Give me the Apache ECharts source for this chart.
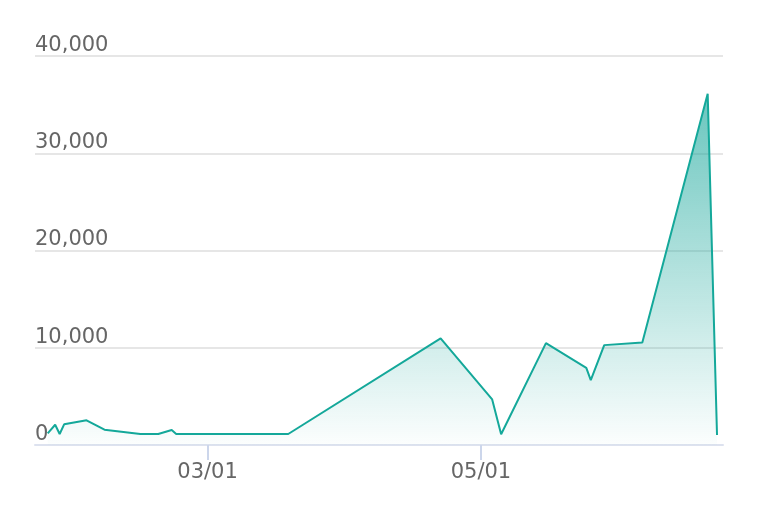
<!DOCTYPE html>
<html>
<head>
<meta charset="utf-8">
<script src="https://cdn.jsdelivr.net/npm/echarts@6/dist/echarts.min.js"></script>
<style>html,body{margin:0;padding:0;background:#fff}#c{width:758px;height:520px}</style>
</head>
<body>
<div id="c"></div>
<script>
const dates = ['2021-01-24 08:00','2021-01-26','2021-01-27','2021-01-28','2021-02-02','2021-02-06','2021-02-14','2021-02-18','2021-02-21','2021-02-22','2021-03-19','2021-04-22','2021-05-03 12:00','2021-05-05 12:00','2021-05-15 12:00','2021-05-24 12:00','2021-05-25 12:00','2021-05-28 12:00','2021-06-06','2021-06-20 14:00','2021-06-22 16:00'];
const values = [1200,2080,1130,2125,2540,1570,1130,1130,1540,1130,1130,10960,4690,1100,10475,7940,6675,10270,10545,36120,1030];
const tickDates = ['2021-03-01','2021-05-01'];
const yTicks = [0,10000,20000,30000,40000];
const xMin = '2021-01-21 12:00';
const xMax = '2021-06-24 00:00';

const ts = s => new Date(s.length === 10 ? s + 'T00:00:00' : s.replace(' ', 'T') + ':00').getTime();
const seriesData = dates.map((d,i)=>[ts(d), values[i]]);
const tickTs = tickDates.map(ts);

const chart = echarts.init(document.getElementById('c'), null, {renderer:'canvas'});
chart.setOption({
  animation:false,
  grid:{left:35,right:35,top:56,bottom:75,containLabel:false},
  xAxis:{
    type:'value',
    min: ts(xMin), max: ts(xMax),
    axisLine:{show:true,lineStyle:{color:'#dde2ef',width:2}},
    axisTick:{show:true,customValues:tickTs,length:15,lineStyle:{color:'#ccd6eb',width:2}},
    axisLabel:{show:true,customValues:tickTs,margin:17,color:'#666666',fontSize:21,fontFamily:'DejaVu Sans',
      formatter:v=>{const d=new Date(v);return String(d.getMonth()+1).padStart(2,'0')+'/'+String(d.getDate()).padStart(2,'0');}},
    splitLine:{show:false}
  },
  yAxis:{
    type:'value',min:yTicks[0],max:yTicks[yTicks.length-1],interval:10000,
    axisLine:{show:false},axisTick:{show:false},
    axisLabel:{inside:true,margin:0,align:'left',verticalAlign:'bottom',padding:[0,0,0,0],color:'#666666',fontSize:21,fontFamily:'DejaVu Sans',
      formatter:v=>v.toLocaleString('en-US')},
    splitLine:{lineStyle:{color:'#e6e6e6',width:2}}
  },
  series:[{
    type:'line',data:seriesData,showSymbol:false,symbol:'none',
    lineStyle:{color:'#14a89a',width:2},
    areaStyle:{color:new echarts.graphic.LinearGradient(0,0,0,1,[
      {offset:0,color:'rgba(23,166,154,0.92)'},
      {offset:1,color:'rgba(23,166,154,0.02)'}])}
  }]
});
</script>
</body>
</html>
